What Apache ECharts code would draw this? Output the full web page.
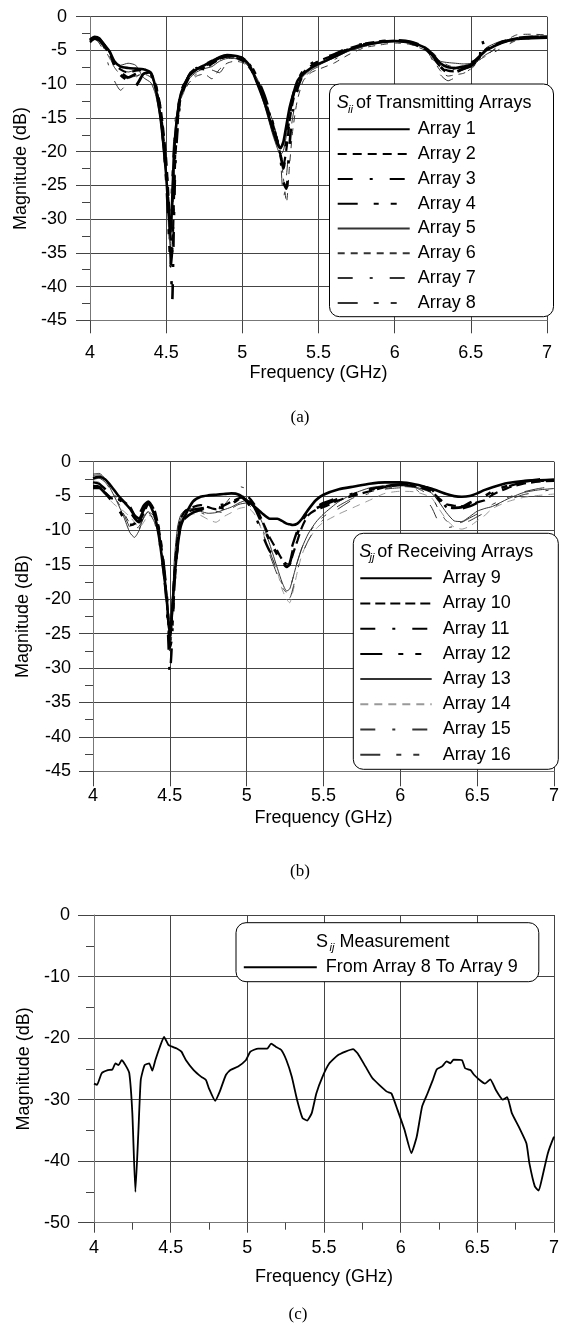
<!DOCTYPE html>
<html><head><meta charset="utf-8">
<script src="https://cdn.jsdelivr.net/npm/echarts@6/dist/echarts.min.js"></script>
<style>html,body{margin:0;padding:0;background:#fff}#c{width:562px;height:1332px}</style>
</head><body><div id="c"></div>
<script>
// ---------- (a) transmitting arrays ----------
const fA = [
 4.0, 4.03, 4.06, 4.1, 4.13, 4.16, 4.2, 4.25,
 4.3, 4.35, 4.4, 4.43, 4.46, 4.48, 4.5, 4.51,
 4.52, 4.53, 4.54, 4.55, 4.56, 4.58, 4.6, 4.65,
 4.7, 4.75, 4.8, 4.85, 4.9, 4.95, 5.0, 5.05,
 5.1, 5.15, 5.2, 5.23, 5.25, 5.27, 5.29, 5.31,
 5.33, 5.36, 5.4, 5.45, 5.5, 5.6, 5.7, 5.8,
 5.9, 6.0, 6.1, 6.2, 6.25, 6.3, 6.35, 6.4,
 6.45, 6.5, 6.55, 6.56, 6.57, 6.6, 6.7, 6.8,
 6.9, 7.0];
const array1 = [
 -3.5, -3.1, -3.3, -4.3, -5.2, -6.6, -7.4, -7.6,
 -7.7, -7.8, -8.3, -10.5, -14.5, -18.5, -23.5, -27,
 -30, -32, -27, -21, -17.5, -13.5, -11.2, -8.8,
 -7.8, -7.2, -6.6, -6.0, -5.7, -5.8, -6.1, -7.3,
 -10, -13, -16.8, -18.8, -19.5, -18.5, -16, -13.5,
 -11.8, -9.6, -8.5, -7.6, -7.0, -6.0, -4.9, -4.2,
 -3.8, -3.6, -3.8, -4.6, -5.6, -6.9, -7.5, -7.6,
 -7.4, -7.1, -6.0, -5.8, -5.6, -5.0, -3.9, -3.3,
 -3.2, -3.1];
const array2 = [
 -3.8, -3.3, -3.4, -4.6, -5.6, -7.0, -7.8, -8.3,
 -8.0, -7.9, -8.4, -10, -13, -16.5, -21, -24.5,
 -28.5, -33, -35, -28, -21, -14.5, -11.5, -8.6,
 -7.6, -7.8, -7.0, -6.3, -5.9, -6.0, -6.5, -7.6,
 -9.8, -12.5, -16, -18.5, -20.5, -22, -19.5, -15.5,
 -12.8, -10, -8.3, -7.3, -6.6, -5.7, -4.7, -4.0,
 -3.7, -3.6, -3.9, -4.8, -6.0, -7.4, -8.0, -8.1,
 -7.8, -7.3, -6.2, -6.0, -5.7, -4.9, -3.8, -3.2,
 -3.0, -2.9];
const array3 = [
 -3.6, -3.2, -3.5, -4.5, -5.4, -7.0, -8.2, -9.0,
 -8.5, -8.0, -8.6, -10.5, -13.5, -17, -22, -26,
 -30, -36, -42, -31, -22, -15, -11.8, -9.0,
 -7.9, -7.5, -6.8, -6.2, -5.9, -5.9, -6.3, -7.2,
 -9.5, -12.5, -16, -18.5, -21, -24.5, -25.5, -19,
 -14, -10.8, -8.5, -7.0, -6.4, -5.6, -4.6, -4.0,
 -3.7, -3.6, -3.8, -4.6, -5.8, -7.2, -7.8, -7.6,
 -7.2, -6.8, -6.2, -5.9, -3.2, -4.8, -3.8, -3.3,
 -3.1, -3.0];
const array4 = [
 -3.4, -3.0, -3.2, -4.4, -5.5, -7.2, -8.6, -9.5,
 -10.2, -8.5, -8.2, -10, -13.5, -18, -24, -28,
 -33, -37, -34, -26, -19, -13.8, -11, -8.6,
 -7.6, -7.3, -6.7, -6.1, -5.8, -5.8, -6.2, -7.0,
 -9.2, -12, -15.8, -18.5, -20.5, -22.5, -18.5, -14.5,
 -12, -9.7, -8.0, -7.2, -6.7, -5.8, -4.8, -4.1,
 -3.7, -3.5, -3.7, -4.5, -5.7, -7.4, -8.3, -8.2,
 -7.7, -7.3, -6.3, -6.1, -6.0, -4.9, -3.8, -3.2,
 -3.0, -2.9];
const array5 = [
 -3.7, -3.4, -3.6, -4.4, -5.5, -6.8, -7.2, -6.9,
 -7.2, -9.0, -9.8, -11.5, -15, -19, -24, -28,
 -33, -30, -25, -20, -16.5, -13, -11, -9.2,
 -8.2, -7.7, -7.4, -6.6, -6.2, -6.2, -6.6, -7.6,
 -10, -13.5, -17.5, -19.5, -20.5, -19.8, -17.5, -14.5,
 -12.3, -10.2, -8.8, -7.8, -7.2, -6.1, -5.1, -4.4,
 -3.9, -3.7, -3.9, -4.6, -5.6, -6.6, -6.8, -6.9,
 -7.0, -6.9, -6.0, -5.8, -5.6, -4.6, -3.6, -3.2,
 -3.1, -3.0];
const array6 = [
 -3.5, -3.2, -3.6, -5.0, -6.2, -7.5, -8.6, -9.2,
 -8.8, -8.5, -9.0, -11, -14, -17.5, -22, -26,
 -31, -36, -33, -25, -19, -14.5, -12, -9.8,
 -8.8, -8.5, -9.2, -7.8, -6.9, -6.6, -6.8, -7.8,
 -9.8, -12.5, -15.5, -18, -20, -24, -27.5, -22,
 -17, -12.5, -9.5, -8.3, -7.8, -6.9, -5.6, -4.6,
 -4.2, -3.9, -4.1, -5.0, -6.3, -8.0, -8.8, -8.6,
 -8.4, -7.8, -6.6, -6.4, -6.2, -5.8, -4.0, -2.7,
 -2.6, -2.7];
const array7 = [
 -3.3, -3.3, -3.9, -5.6, -7.8, -9.5, -10.9, -9.8,
 -9.0, -8.3, -8.6, -10.8, -14, -18, -23, -27,
 -31, -34, -30, -24, -18.5, -14, -11.5, -9.5,
 -8.5, -7.8, -7.9, -8.3, -6.8, -6.4, -6.5, -7.4,
 -9.3, -12, -15.5, -18.5, -21, -27, -23.5, -18.5,
 -15, -11.5, -9.3, -8.0, -7.4, -6.4, -5.2, -4.4,
 -4.0, -3.7, -4.0, -5.0, -6.5, -8.6, -9.5, -9.0,
 -8.5, -7.7, -6.5, -6.3, -6.1, -5.6, -4.4, -3.4,
 -3.0, -2.9];
const array8 = [
 -3.6, -3.3, -3.4, -4.2, -5.3, -6.7, -7.5, -8.2,
 -7.9, -7.6, -8.6, -10.6, -15, -19.5, -24.5, -28,
 -30, -27, -22, -18, -15, -12.5, -10.7, -8.5,
 -7.5, -7.0, -6.4, -6.2, -5.9, -6.0, -6.4, -7.4,
 -9.6, -12.8, -16.3, -18.8, -20, -19, -16.5, -13.8,
 -11.6, -9.4, -8.2, -7.4, -6.8, -5.9, -4.9, -4.2,
 -3.8, -3.6, -3.7, -4.4, -5.3, -6.5, -7.2, -7.5,
 -7.6, -7.5, -6.5, -6.3, -6.2, -5.9, -4.7, -3.5,
 -3.2, -3.0];

// ---------- (b) receiving arrays ----------
const fB = [
 4.0, 4.04, 4.08, 4.12, 4.16, 4.2, 4.24, 4.27,
 4.3, 4.33, 4.36, 4.4, 4.43, 4.46, 4.48, 4.49,
 4.5, 4.51, 4.52, 4.53, 4.55, 4.57, 4.6, 4.65,
 4.7, 4.75, 4.8, 4.85, 4.9, 4.95, 5.0, 5.05,
 5.1, 5.15, 5.2, 5.23, 5.26, 5.28, 5.3, 5.33,
 5.36, 5.4, 5.45, 5.5, 5.6, 5.7, 5.8, 5.9,
 6.0, 6.1, 6.2, 6.25, 6.3, 6.35, 6.4, 6.45,
 6.5, 6.55, 6.6, 6.7, 6.8, 6.9, 7.0];
const array9 = [
 -2.4, -2.2, -2.6, -3.6, -4.8, -5.8, -6.8, -7.8,
 -8.3, -7.0, -6.0, -7.8, -11, -16, -20, -23,
 -25, -23, -20, -17, -12.5, -9.5, -7.8, -5.8,
 -5.1, -4.9, -4.8, -4.7, -4.6, -4.8, -5.6, -6.5,
 -7.5, -8.3, -8.3, -8.6, -9.0, -9.1, -9.2, -9.0,
 -8.3, -7.0, -5.6, -4.8, -4.0, -3.6, -3.2, -3.0,
 -3.0, -3.3, -3.9, -4.3, -4.7, -5.0, -5.1, -5.0,
 -4.6, -4.1, -3.7, -3.1, -2.8, -2.7, -2.6];
const array10 = [
 -3.5, -3.6, -4.5, -5.3, -5.4, -5.8, -6.5, -7.8,
 -8.6, -7.5, -6.2, -7.0, -10, -15, -20, -23.5,
 -26, -24, -20, -16, -11, -8.3, -7.2, -6.6,
 -6.3, -6.6, -6.9, -6.4, -5.8, -5.3, -5.0, -6.2,
 -8.5, -11, -13, -14.2, -15.2, -15, -13.5, -11.5,
 -9.5, -7.8, -7.0, -6.6, -5.6, -4.9, -4.3, -3.7,
 -3.4, -3.6, -4.3, -5.3, -6.2, -6.4, -6.5, -6.3,
 -5.9, -5.6, -4.8, -3.8, -3.2, -2.9, -2.8];
const array11 = [
 -3.0, -3.2, -4.0, -5.0, -5.4, -6.0, -7.2, -8.2,
 -8.8, -8.0, -7.0, -7.5, -10.5, -16, -21, -26,
 -31, -28, -23, -18, -12.5, -9.0, -7.5, -7.0,
 -6.8, -6.6, -6.4, -6.2, -5.6, -5.0, -5.8, -7.5,
 -10.5, -13, -14, -14.5, -14.8, -13.5, -12, -10,
 -8.4, -7.2, -6.6, -6.0, -5.2, -4.6, -4.0, -3.6,
 -3.3, -3.4, -4.0, -5.2, -6.6, -7.0, -6.8, -6.5,
 -6.0, -5.5, -4.6, -3.6, -3.0, -2.8, -2.7];
const array12 = [
 -3.8, -3.8, -4.6, -5.6, -6.6, -8.2, -9.2, -9.0,
 -7.8, -6.4, -5.8, -7.2, -10, -15, -19.5, -23,
 -27, -26, -22, -17.5, -12, -9.2, -8.2, -7.4,
 -7.0, -6.6, -6.5, -6.8, -6.2, -5.4, -5.2, -6.6,
 -9.0, -11.5, -13.5, -14.5, -15.3, -14.8, -13, -10.5,
 -8.6, -7.4, -6.8, -6.3, -5.4, -4.7, -4.1, -3.6,
 -3.3, -3.4, -4.1, -5.5, -6.5, -6.7, -6.6, -6.0,
 -5.5, -5.0, -4.3, -3.5, -2.9, -2.6, -2.5];
const array13 = [
 -1.8, -1.7, -2.5, -4.2, -6.0, -8.0, -10.3, -11.0,
 -10, -8.0, -7.3, -8.0, -11, -15.5, -19.5, -22,
 -24, -22, -18.5, -14, -9.5, -7.8, -7.0, -6.8,
 -7.2, -7.5, -7.4, -7.0, -6.6, -6.0, -5.6, -6.6,
 -8.8, -12, -15.5, -17.5, -18.8, -18.5, -17, -14.5,
 -12.5, -10.5, -8.8, -7.6, -5.8, -4.6, -3.8, -3.5,
 -3.5, -3.7, -4.5, -5.8, -7.4, -8.6, -8.7, -8.0,
 -7.2, -6.8, -6.5, -5.4, -4.5, -4.1, -3.9];
const array14 = [
 -2.8, -3.0, -4.4, -5.8, -6.6, -7.2, -8.0, -8.8,
 -9.6, -8.8, -7.8, -8.2, -11, -15, -19, -22,
 -24.5, -23, -20, -16, -11, -8.6, -7.8, -7.6,
 -7.8, -8.4, -8.8, -8.0, -7.4, -6.8, -6.6, -7.6,
 -10, -13, -16, -18.5, -20, -20.5, -19, -16,
 -13.5, -11.5, -9.8, -8.8, -7.6, -6.6, -5.6, -4.6,
 -4.3, -4.4, -5.2, -6.8, -8.4, -9.5, -9.8, -9.4,
 -8.6, -7.8, -6.8, -5.8, -5.2, -4.9, -4.7];
const array15 = [
 -2.0, -1.9, -2.6, -4.0, -5.6, -7.6, -9.6, -10.6,
 -9.8, -8.2, -7.4, -8.8, -12, -17, -21, -24,
 -27, -25, -21, -16.5, -11.5, -8.4, -7.2, -7.0,
 -7.4, -7.8, -7.2, -6.4, -5.0, -3.6, -4.0, -6.4,
 -9.5, -13, -16, -17.8, -19.5, -19.8, -18.5, -15.8,
 -13.5, -11.5, -9.6, -8.4, -6.8, -5.4, -4.6, -4.0,
 -3.8, -4.0, -6.5, -8.8, -9.6, -9.4, -9.0, -8.6,
 -8.0, -7.4, -6.6, -5.6, -4.8, -4.4, -4.0];
const array16 = [
 -2.6, -2.4, -3.0, -4.3, -5.8, -7.4, -9.0, -9.8,
 -9.4, -8.2, -7.2, -8.0, -11.5, -16.5, -21, -24.5,
 -28, -26, -22, -17, -12, -9.0, -7.6, -7.2,
 -7.0, -6.8, -7.2, -7.4, -6.8, -6.2, -6.0, -7.4,
 -10, -13.5, -16.5, -18.2, -19, -18.6, -17, -14.6,
 -12.5, -10.6, -9.0, -8.0, -6.4, -5.2, -4.4, -3.9,
 -3.6, -3.8, -5.0, -7.0, -8.6, -9.0, -8.8, -8.2,
 -7.6, -7.0, -6.2, -5.2, -4.4, -3.9, -3.6];

// ---------- (c) Sij measurement ----------
const fC = [
 4.0, 4.02, 4.05, 4.09, 4.12, 4.14, 4.16, 4.18, 4.205, 4.23,
 4.25, 4.27, 4.29, 4.305, 4.33, 4.36, 4.38, 4.40, 4.43, 4.457,
 4.485, 4.51, 4.54, 4.57, 4.60, 4.65, 4.70, 4.73, 4.75, 4.79,
 4.82, 4.86, 4.89, 4.94, 4.99, 5.02, 5.07, 5.13, 5.155, 5.185,
 5.22, 5.255, 5.29, 5.325, 5.36, 5.39, 5.42, 5.45, 5.49, 5.535,
 5.59, 5.64, 5.69, 5.72, 5.77, 5.815, 5.86, 5.91, 5.94, 5.98,
 6.025, 6.07, 6.105, 6.14, 6.175, 6.21, 6.235, 6.27, 6.30, 6.325,
 6.345, 6.40, 6.42, 6.455, 6.48, 6.515, 6.55, 6.585, 6.62, 6.665,
 6.695, 6.725, 6.77, 6.82, 6.84, 6.875, 6.90, 6.92, 6.96, 7.0];
const s8to9 = [
 -27.4, -27.6, -25.7, -25.2, -25.1, -24.1, -24.4, -23.6, -24.4, -25.7,
 -32.2, -45, -34.9, -26.8, -24.4, -24.1, -25.3, -23.6, -21.4, -19.8,
 -21.1, -21.4, -21.7, -22.2, -23.6, -25.2, -26.3, -26.8, -28.2, -30.2,
 -28.7, -26, -25.2, -24.6, -23.6, -22.2, -21.7, -21.7, -20.9, -21.4,
 -21.9, -23.6, -26.3, -30.1, -33, -33.4, -32.2, -29, -26.3, -24.1,
 -22.8, -22.2, -21.8, -22.5, -24.6, -26.5, -27.6, -28.7, -29, -31.7,
 -34.9, -38.7, -36, -31.1, -29, -26.8, -25.1, -24.6, -23.8, -24.1,
 -23.5, -23.6, -24.9, -25.2, -26, -26.8, -27.4, -26.7, -28.4, -30,
 -29.6, -32.2, -34.4, -37.1, -40.4, -44.1, -44.8, -43, -38.7, -36];

const namesA = ['Array 1','Array 2','Array 3','Array 4','Array 5','Array 6','Array 7','Array 8'];
const namesB = ['Array 9','Array 10','Array 11','Array 12','Array 13','Array 14','Array 15','Array 16'];
const nameC = 'From Array 8 To Array 9';
const xTicks = {min: 4, max: 7, interval: 0.5};

const F = '"Liberation Sans", Arial, sans-serif';
const SERIF = '"Liberation Serif", "Times New Roman", serif';
const zip = (f, v) => f.map((x, i) => [x, v[i]]);

const stylesA = [
 {w: 2.6, c: '#000', t: 'solid'},
 {w: 2.2, c: '#000', t: [9, 6]},
 {w: 2.6, c: '#000', t: [15, 17, 3, 17]},
 {w: 2.8, c: '#000', t: [20, 16, 5, 12, 6, 13]},
 {w: 1, c: '#333', t: 'solid'},
 {w: 1, c: '#333', t: [7, 6]},
 {w: 1, c: '#333', t: [15, 17, 3, 17]},
 {w: 1, c: '#333', t: [20, 16, 5, 12, 6, 13]}
];
const stylesB = [
 {w: 2.6, c: '#000', t: 'solid'},
 {w: 2.2, c: '#000', t: [10, 5]},
 {w: 2.4, c: '#000', t: [15, 17, 3, 17]},
 {w: 2.8, c: '#000', t: [22, 16, 5, 12, 6, 12]},
 {w: 1, c: '#333', t: 'solid'},
 {w: 1, c: '#999', t: [8, 6]},
 {w: 1, c: '#333', t: [15, 17, 3, 17]},
 {w: 1, c: '#333', t: [20, 16, 5, 12, 6, 13]}
];
const dataA = [array1, array2, array3, array4, array5, array6, array7, array8];
const dataB = [array9, array10, array11, array12, array13, array14, array15, array16];

const NOFILL = 'rgba(0,0,0,0)';
const series = [];
dataA.forEach((d, i) => series.push({
  name: namesA[i], type: 'line', xAxisIndex: 0, yAxisIndex: 0, data: zip(fA, d),
  symbol: 'none', smooth: 0.2, lineStyle: {width: stylesA[i].w, color: stylesA[i].c, type: stylesA[i].t},
  itemStyle: {color: NOFILL, borderWidth: 0}, z: i < 4 ? 3 : 2
}));
dataB.forEach((d, i) => series.push({
  name: namesB[i], type: 'line', xAxisIndex: 1, yAxisIndex: 1, data: zip(fB, d),
  symbol: 'none', smooth: 0.2, lineStyle: {width: stylesB[i].w, color: stylesB[i].c, type: stylesB[i].t},
  itemStyle: {color: NOFILL, borderWidth: 0}, z: i < 4 ? 3 : 2
}));
series.push({
  name: nameC, type: 'line', xAxisIndex: 2, yAxisIndex: 2, data: zip(fC, s8to9),
  symbol: 'none', smooth: 0.15, lineStyle: {width: 1.8, color: '#000'}, itemStyle: {color: NOFILL, borderWidth: 0}
});

const GRID = '#444';
function mkX(gi, margin, tickLen, nameGap, minor) {
  return {
    type: 'value', gridIndex: gi, min: xTicks.min, max: xTicks.max, interval: xTicks.interval,
    name: 'Frequency (GHz)', nameLocation: 'middle', nameGap: nameGap,
    nameTextStyle: {fontSize: 18, fontFamily: F, color: '#000'},
    axisLine: {show: true, onZero: false, lineStyle: {color: '#777', width: 1}},
    axisTick: {show: true, inside: false, length: tickLen, lineStyle: {color: GRID, width: 1}},
    minorTick: {show: minor, splitNumber: 2, length: 7, lineStyle: {color: GRID, width: 1}},
    axisLabel: {fontSize: 18, fontFamily: F, color: '#000', margin: margin},
    splitLine: {show: true, lineStyle: {color: GRID, width: 1}}
  };
}
function mkY(gi, min, interval, margin, tickLen, nameGap) {
  return {
    type: 'value', gridIndex: gi, min: min, max: 0, interval: interval,
    name: 'Magnitude (dB)', nameLocation: 'middle', nameGap: nameGap,
    nameTextStyle: {fontSize: 18, fontFamily: F, color: '#000'},
    axisLine: {show: true, lineStyle: {color: '#777', width: 1}},
    axisTick: {show: true, inside: false, length: tickLen, lineStyle: {color: GRID, width: 1}},
    minorTick: {show: true, splitNumber: 2, length: 8, lineStyle: {color: GRID, width: 1}},
    axisLabel: {fontSize: 18, fontFamily: F, color: '#000', margin: margin},
    splitLine: {show: true, lineStyle: {color: GRID, width: 1}}
  };
}
const legTxt = (pad) => ({fontSize: 18, fontFamily: F, color: '#000', padding: [0, 0, 0, pad], lineHeight: 18});
const legItem = {color: NOFILL, borderWidth: 0, opacity: 0};
function txt(x, y, text, size, extra) {
  return {type: 'text', x: x, y: y, z: 6,
    style: Object.assign({text: text, fill: '#000', fontSize: size, fontFamily: F, verticalAlign: 'middle', align: 'left'}, extra || {})};
}

const option = {
  animation: false,
  backgroundColor: '#fff',
  grid: [
    {left: 90, top: 16.7, width: 457, height: 303.6},
    {left: 93, top: 461.7, width: 464.3, height: 309.6},
    {left: 94, top: 915, width: 462, height: 307.7}
  ],
  xAxis: [mkX(0, 24, 13, 44, false), mkX(1, 16, 15, 38, false), mkX(2, 16, 10, 45, true)],
  yAxis: [mkY(0, -45, 5, 23, 14, 60), mkY(1, -45, 5, 22, 14, 61), mkY(2, -50, 10, 24, 16, 59)],
  legend: [
    {data: namesA, orient: 'vertical', left: 336.7, top: 120.3, padding: 0, itemWidth: 72, itemHeight: 18,
     itemGap: 6.8, selectedMode: false, textStyle: legTxt(3), itemStyle: legItem, z: 5},
    {data: namesB, orient: 'vertical', left: 359.3, top: 569.3, padding: 0, itemWidth: 71.4, itemHeight: 18,
     itemGap: 7.2, selectedMode: false, textStyle: legTxt(6), itemStyle: legItem, z: 5},
    {data: [nameC], orient: 'vertical', left: 242.8, top: 958.3, padding: 0, itemWidth: 73, itemHeight: 18,
     selectedMode: false, textStyle: legTxt(4), itemStyle: legItem, z: 5}
  ],
  graphic: [
    {type: 'rect', z: 4, shape: {x: 329.5, y: 84, width: 224, height: 232.7, r: 10},
     style: {fill: '#fff', stroke: '#000', lineWidth: 1}},
    {type: 'rect', z: 4, shape: {x: 353.3, y: 533.3, width: 205, height: 236, r: 10},
     style: {fill: '#fff', stroke: '#000', lineWidth: 1}},
    {type: 'rect', z: 4, shape: {x: 236, y: 922.7, width: 302.8, height: 59, r: 10},
     style: {fill: '#fff', stroke: '#000', lineWidth: 1}},
    txt(336.7, 103.3, 'S', 18, {fontStyle: 'italic'}),
    txt(348, 109.5, 'ii', 11, {fontStyle: 'italic'}),
    txt(356, 103.3, 'of Transmitting Arrays', 18),
    txt(359.3, 551.7, 'S', 18, {fontStyle: 'italic'}),
    txt(369.5, 558, 'jj', 11, {fontStyle: 'italic'}),
    txt(377.3, 551.7, 'of Receiving Arrays', 18),
    txt(316, 941.7, 'S', 18),
    txt(329.5, 948, 'ij', 11, {fontStyle: 'italic'}),
    txt(339.4, 941.7, 'Measurement', 18),
    txt(300, 418, '(a)', 17, {fontFamily: SERIF, align: 'center'}),
    txt(300, 872, '(b)', 17, {fontFamily: SERIF, align: 'center'}),
    txt(298, 1315, '(c)', 17, {fontFamily: SERIF, align: 'center'})
  ],
  series: series
};
const chart = echarts.init(document.getElementById('c'), null, {renderer: 'canvas'});
chart.setOption(option);
</script>
</body></html>
